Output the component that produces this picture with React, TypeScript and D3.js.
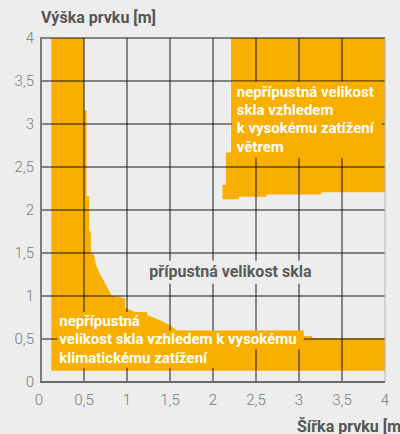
import React, { useEffect, useRef } from "react";
import * as d3 from "d3";

// ---------- data ----------
const xTicks = [0, 0.5, 1, 1.5, 2, 2.5, 3, 3.5, 4];
const xTickLabels = ["0", "0,5", "1", "1,5", "2", "2,5", "3", "3,5", "4"];
const yTicks = [0, 0.5, 1, 1.5, 2, 2.5, 3, 3.5, 4];
const yTickLabels = ["0", "0,5", "1", "1,5", "2", "2,5", "3", "3,5", "4"];

// region not allowed because of climatic load (width, height outline)
const climateX = [0.12, 0.12, 0.5, 0.5, 0.53, 0.53, 0.56, 0.56, 0.58, 0.58, 0.616, 0.636, 0.66, 0.686, 0.715, 0.744, 0.78, 0.82, 0.9, 0.98, 0.98, 1.03, 1.11, 1.23, 1.33, 1.42, 1.5, 1.58, 1.62, 2.14, 2.14, 3.15, 3.15, 4.0, 4.0];
const climateY = [0.13, 4.0, 4.0, 3.16, 3.16, 2.16, 2.16, 1.75, 1.75, 1.5, 1.48, 1.38, 1.31, 1.26, 1.2, 1.15, 1.08, 1.01, 0.99, 0.97, 0.86, 0.84, 0.81, 0.78, 0.74, 0.7, 0.66, 0.6, 0.565, 0.565, 0.535, 0.535, 0.51, 0.51, 0.13];

// region not allowed because of wind load
const windX = [2.21, 4.0, 4.0, 3.26, 3.26, 2.62, 2.62, 2.3, 2.3, 2.11, 2.11, 2.15, 2.15, 2.21];
const windY = [4.0, 4.0, 2.205, 2.205, 2.18, 2.18, 2.155, 2.155, 2.125, 2.125, 2.29, 2.29, 2.67, 2.67];

const yTitle = "Výška prvku [m]";
const xTitle = "Šířka prvku [m]";
const windLabel = ["nepřípustná velikost", "skla vzhledem", "k vysokému zatížení", "větrem"];
const climateLabel = ["nepřípustná", "velikost skla vzhledem k vysokému", "klimatickému zatížení"];
const okLabel = "přípustná velikost skla";

// ---------- layout ----------
const W = 400;
const H = 434;
const ORANGE = "#f9af00";
const BG = "#ededed";
const FONT = "Roboto, 'DejaVu Sans', sans-serif";

export default function App() {
  const ref = useRef<SVGSVGElement | null>(null);

  useEffect(() => {
    const svg = d3.select(ref.current);
    svg.selectAll("*").remove();

    const x = d3.scaleLinear().domain([0, 4]).range([41, 385]);
    const y = d3.scaleLinear().domain([0, 4]).range([382, 38]);

    svg.append("rect").attr("width", W).attr("height", H).attr("fill", BG);

    const line = d3
      .line<[number, number]>()
      .x((d) => x(d[0]))
      .y((d) => y(d[1]));

    const climatePts = climateX.map((v, i) => [v, climateY[i]] as [number, number]);
    const windPts = windX.map((v, i) => [v, windY[i]] as [number, number]);

    svg.append("path").attr("d", line(climatePts) + "Z").attr("fill", ORANGE);
    svg.append("path").attr("d", line(windPts) + "Z").attr("fill", ORANGE);

    // gridlines
    const g = svg.append("g");
    yTicks
      .filter((t) => t > 0)
      .forEach((t) => {
        g.append("line")
          .attr("x1", x(0))
          .attr("x2", x(4))
          .attr("y1", y(t))
          .attr("y2", y(t))
          .attr("stroke", "rgba(0,0,0,0.6)")
          .attr("stroke-width", 1.4);
      });
    xTicks
      .filter((t) => t > 0 && t < 4)
      .forEach((t) => {
        g.append("line")
          .attr("x1", x(t))
          .attr("x2", x(t))
          .attr("y1", y(4))
          .attr("y2", y(0))
          .attr("stroke", "rgba(0,0,0,0.88)")
          .attr("stroke-width", 1);
      });
    g.append("line")
      .attr("x1", x(4))
      .attr("x2", x(4))
      .attr("y1", y(4))
      .attr("y2", y(0))
      .attr("stroke", "#b4b4b4")
      .attr("stroke-width", 1);

    // axes
    svg.append("line")
      .attr("x1", x(0))
      .attr("x2", x(0))
      .attr("y1", y(4) - 0.7)
      .attr("y2", y(0) + 1)
      .attr("stroke", "#7a7a7a")
      .attr("stroke-width", 2);
    svg.append("line")
      .attr("x1", x(0) - 1)
      .attr("x2", x(4))
      .attr("y1", y(0))
      .attr("y2", y(0))
      .attr("stroke", "#6a6a6a")
      .attr("stroke-width", 2);

    // labels with background boxes
    const boxedLines = (
      lines: string[],
      x0: number,
      y0: number,
      color: string,
      boxColor: string,
      size: number,
      pad: { l: number; r: number; t: number; b: number },
      union: boolean
    ) => {
      const grp = svg.append("g");
      const rectLayer = grp.append("g");
      const texts = lines.map((s, i) =>
        grp
          .append("text")
          .attr("x", x0)
          .attr("y", y0 + i * 18.4)
          .attr("fill", color)
          .attr("font-family", FONT)
          .attr("font-weight", 700)
          .attr("font-size", size)
          .text(s)
      );
      const boxes = texts.map((t) => (t.node() as SVGTextElement).getBBox());
      const draw = (bx: number, by: number, bw: number, bh: number) =>
        rectLayer
          .append("rect")
          .attr("x", bx - pad.l)
          .attr("y", by - pad.t)
          .attr("width", bw + pad.l + pad.r)
          .attr("height", bh + pad.t + pad.b)
          .attr("fill", boxColor);
      if (union) {
        const x1 = d3.min(boxes, (b) => b.x)!;
        const y1 = d3.min(boxes, (b) => b.y)!;
        const x2 = d3.max(boxes, (b) => b.x + b.width)!;
        const y2 = d3.max(boxes, (b) => b.y + b.height)!;
        draw(x1, y1, x2 - x1, y2 - y1);
      } else {
        boxes.forEach((b) => draw(b.x, b.y, b.width, b.height));
      }
    };

    boxedLines(windLabel, x(2.276), y(3.318), "#ffffff", ORANGE, 15, { l: 5, r: 7, t: 1, b: 2 }, true);
    boxedLines(climateLabel, x(0.213), y(0.651), "#ffffff", ORANGE, 15, { l: 2, r: 7, t: 0, b: 1 }, false);
    boxedLines([okLabel], x(1.26), y(1.224), "#5a5a5a", BG, 16, { l: 4, r: 4, t: 1, b: 3 }, false);

    // tick labels
    xTicks.forEach((t, i) => {
      svg.append("text")
        .attr("x", x(t) - (i === 0 ? 2 : 0))
        .attr("y", 405)
        .attr("text-anchor", "middle")
        .attr("fill", "#7a7a7a")
        .attr("font-family", FONT)
        .attr("font-weight", 300)
        .attr("font-size", 15)
        .text(xTickLabels[i]);
    });
    yTicks.forEach((t, i) => {
      svg.append("text")
        .attr("x", 34)
        .attr("y", y(t))
        .attr("dy", "0.35em")
        .attr("text-anchor", "end")
        .attr("fill", "#7a7a7a")
        .attr("font-family", FONT)
        .attr("font-weight", 300)
        .attr("font-size", 15)
        .text(yTickLabels[i]);
    });

    // titles
    svg.append("text")
      .attr("x", 41)
      .attr("y", 23)
      .attr("fill", "#555")
      .attr("font-family", FONT)
      .attr("font-weight", 700)
      .attr("font-size", 16)
      .text(yTitle);
    svg.append("text")
      .attr("x", 297)
      .attr("y", 432)
      .attr("fill", "#555")
      .attr("font-family", FONT)
      .attr("font-weight", 700)
      .attr("font-size", 16)
      .text(xTitle);
  }, []);

  return (
    <svg
      ref={ref}
      width={W}
      height={H}
      style={{ position: "fixed", left: 0, top: 0, display: "block" }}
    />
  );
}
